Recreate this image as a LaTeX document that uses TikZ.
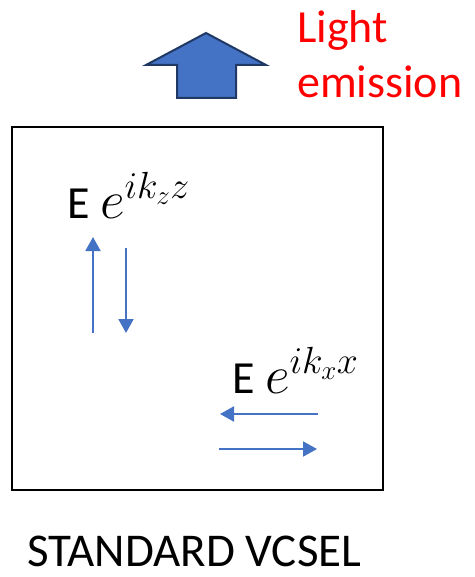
\RequirePackage{fix-cm}
\documentclass[tikz,border=0pt]{standalone}
\usepackage{fontspec}
\setmainfont{Carlito}
\usetikzlibrary{arrows.meta}
\definecolor{ppblue}{HTML}{4472C4}
\definecolor{ppnavy}{HTML}{1F3864}
\tikzset{wave/.style = {ppblue, line width=2pt,
                        -{Triangle[length=14pt,width=15pt]}}}
\tikzset{lbl/.style = {inner sep=0, anchor=base west,
                       font=\fontsize{46}{55}\selectfont}}

\begin{document}
\begin{tikzpicture}[x=1pt, y=-1pt]
  \useasboundingbox (0,0) rectangle (474,577);
  % cavity
  \draw[line width=2pt] (12,127) rectangle (383,490);

  % emission arrow on top
  \coordinate (tip) at (206,33);
  \fill[ppblue, draw=ppnavy, line width=2pt]
    (tip) -- (266,65) -- (236,65) -- (236,98)
    -- (177,98) -- (177,65) -- (146,65) -- cycle;
  \node[inner sep=0, anchor=base west, align=left, text=red,
        font=\fontsize{46}{55}\selectfont] (light) at (297,98) {Light\\emission};

  % fields
  \node[lbl] (ez) at (67,218) {E \fontsize{54}{64}\selectfont$e^{ik_zz}$};
  \node[lbl] (ex) at (232,393) {E \fontsize{54}{64}\selectfont$e^{ik_xx}$};

  % vertical waves
  \coordinate (zu0) at (93,333);
  \coordinate (zu1) at (93,237);
  \coordinate (zd0) at (126,248);
  \coordinate (zd1) at (126,333);
  \draw[wave] (zu0) -- (zu1);
  \draw[wave] (zd0) -- (zd1);

  % horizontal waves
  \coordinate (xl0) at (318,414);
  \coordinate (xl1) at (220,414);
  \coordinate (xr0) at (219,449);
  \coordinate (xr1) at (317,449);
  \draw[wave] (xl0) -- (xl1);
  \draw[wave] (xr0) -- (xr1);

  \node[inner sep=0, anchor=base west,
        font=\fontsize{47}{56}\selectfont] (title) at (27,566) {STANDARD VCSEL};
\end{tikzpicture}
\end{document}
